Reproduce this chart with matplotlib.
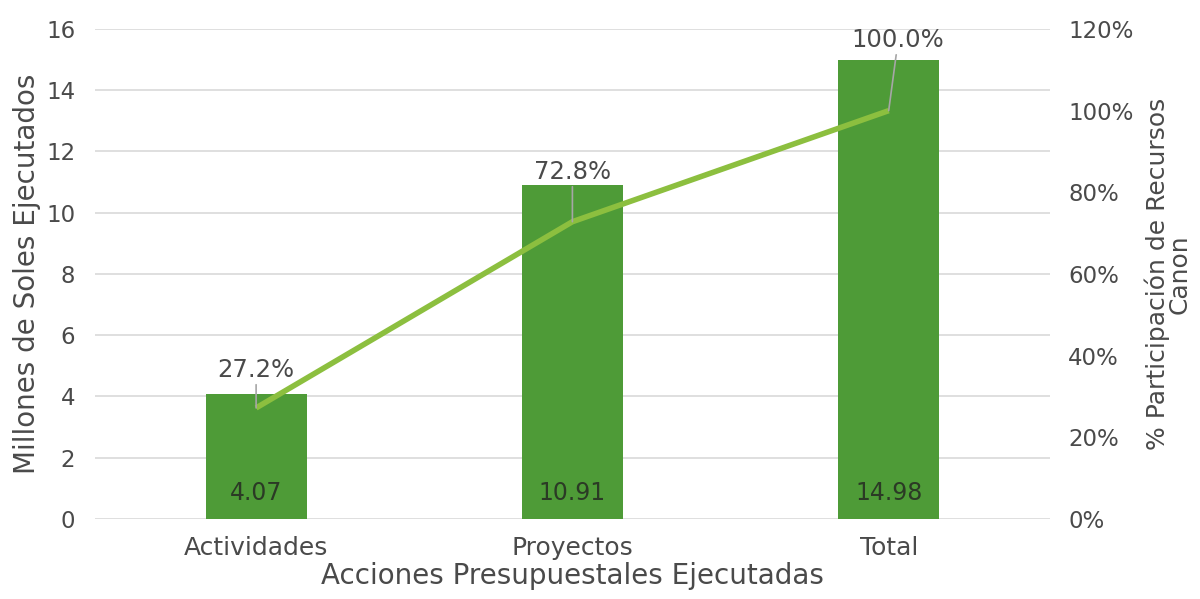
"""Acciones presupuestales ejecutadas - barras y participacion"""

import matplotlib
matplotlib.use("Agg")
import matplotlib.pyplot as plt
from matplotlib.ticker import FuncFormatter

categorias = ["Actividades", "Proyectos", "Total"]
millones = [4.07, 10.91, 14.98]
participacion = [27.2, 72.8, 100.0]

BAR_COLOR = "#4e9b37"
LINE_COLOR = "#8cbf3f"
TEXT_COLOR = "#4a4a4a"
GRID_COLOR = "#d9d9d9"

plt.rcParams["font.family"] = ["DejaVu Sans"]

fig = plt.figure(figsize=(12, 5.99), dpi=100)
ax = fig.add_axes([0.079, 0.1336, 0.796, 0.818])
x = list(range(len(categorias)))

# barras
ax.bar(x, millones, width=0.32, color=BAR_COLOR, zorder=2)
ax.set_ylim(0, 16)
ax.set_xlim(-0.51, 2.51)
ax.set_yticks(range(0, 17, 2))
ax.yaxis.grid(True, color=GRID_COLOR, linewidth=1.2, zorder=0)
ax.set_axisbelow(True)
for s in ax.spines.values():
    s.set_visible(False)
ax.tick_params(axis="y", length=0, labelsize=16.5, colors=TEXT_COLOR, pad=14)
ax.tick_params(axis="x", length=0, labelsize=18, colors=TEXT_COLOR, pad=12)
ax.set_xticks(x)
ax.set_xticklabels(categorias)
ax.set_xlabel("Acciones Presupuestales Ejecutadas", fontsize=20, color=TEXT_COLOR,
              labelpad=2)
ax.set_ylabel("Millones de Soles Ejecutados", fontsize=20, color=TEXT_COLOR,
              labelpad=4)

for xi, v in zip(x, millones):
    ax.text(xi, 0.85, f"{v:.2f}", ha="center", va="center", fontsize=17,
            color="#2b3a25", zorder=3)

# linea de participacion
ax2 = ax.twinx()
ax2.plot(x, participacion, color=LINE_COLOR, linewidth=4, zorder=3,
         solid_capstyle="butt")
ax2.set_ylim(0, 120)
ax2.set_yticks(range(0, 121, 20))
ax2.yaxis.set_major_formatter(FuncFormatter(lambda v, p: f"{v:.0f}%"))
for s in ax2.spines.values():
    s.set_visible(False)
ax2.tick_params(axis="y", length=0, labelsize=16.5, colors=TEXT_COLOR, pad=13)
ax2.set_ylabel("% Participación de Recursos\nCanon", fontsize=18,
               color=TEXT_COLOR, labelpad=8, linespacing=0.85)

offsets = [(0.0, 9.3), (0.0, 12.2), (0.03, 17.3)]
for xi, p, (dx, dy) in zip(x, participacion, offsets):
    ax2.annotate(f"{p:.1f}%", xy=(xi, p), xytext=(xi + dx, p + dy),
                 ha="center", va="center", fontsize=17.5, color=TEXT_COLOR,
                 arrowprops=dict(arrowstyle="-", color="#a6a6a6", lw=1.2,
                                 shrinkA=0, shrinkB=0))

fig.savefig("out.png", dpi=100)
